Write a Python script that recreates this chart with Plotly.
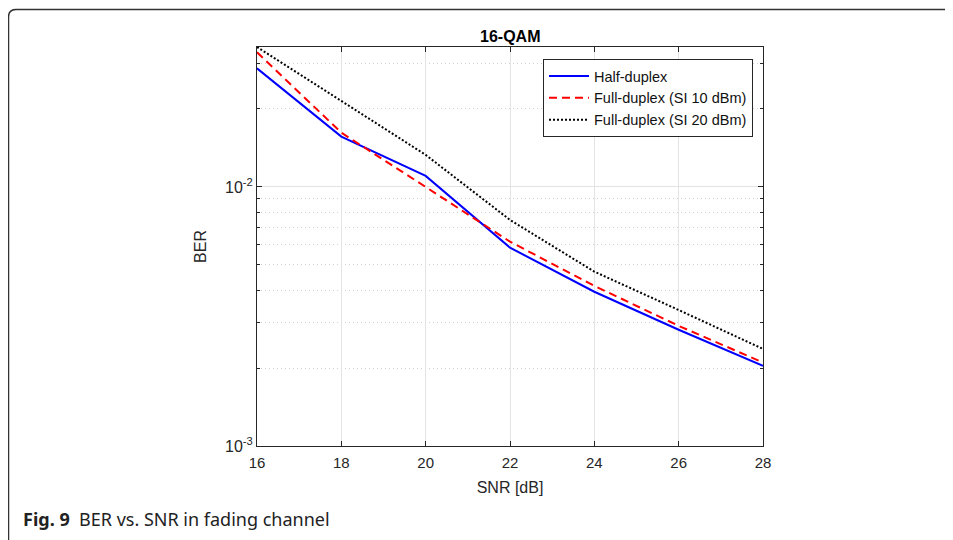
import plotly.graph_objects as go
import numpy as np

snr = [16, 18, 20, 22, 24, 26, 28]
half_duplex = [0.0287, 0.01564, 0.01103, 0.00583, 0.00394, 0.00281, 0.00204]
full_duplex_10 = [0.0331, 0.0162, 0.0100, 0.00615, 0.00415, 0.00291, 0.0021]
full_duplex_20 = [0.0347, 0.0215, 0.0133, 0.00746, 0.00471, 0.00335, 0.00237]

x_ticks = [16, 18, 20, 22, 24, 26, 28]
y_ticks = [0.001, 0.01]
y_ticktext = ["10<sup>-3</sup>", "10<sup>-2</sup>"]
y_minor = [m * 10.0 ** e for e in (-3, -2) for m in range(2, 10)]

AX = "#262626"
FONT = "Liberation Sans, Arial, sans-serif"

# page has an 8px body margin; figure coordinates are screen - 8
OFF = 8
W, H = 953 - OFF, 540 - OFF
L, T, R, B = 257 - OFF, 47 - OFF, 763 - OFF, 446 - OFF

fig = go.Figure()
fig.add_trace(go.Scatter(x=snr, y=half_duplex, mode="lines", name="Half-duplex",
                         line=dict(color="#0000ff", width=2)))
fig.add_trace(go.Scatter(x=snr, y=full_duplex_10, mode="lines", name="Full-duplex (SI 10 dBm)",
                         line=dict(color="#ff0000", width=2, dash="8px,5px")))
fig.add_trace(go.Scatter(x=snr, y=full_duplex_20, mode="lines", name="Full-duplex (SI 20 dBm)",
                         line=dict(color="#000000", width=2, dash="2px,2px")))

fig.update_layout(
    width=W, height=H,
    margin=dict(l=L, r=W - R, t=T, b=H - B),
    paper_bgcolor="white", plot_bgcolor="white",
    font=dict(family=FONT, size=14, color=AX),
    showlegend=True,
    legend=dict(x=(543 - 257) / 506, y=(446 - 59) / 399, xanchor="left", yanchor="top",
                bgcolor="white", bordercolor=AX, borderwidth=1,
                font=dict(size=14.5, color="#111"), tracegroupgap=0,
                itemwidth=40),
    xaxis=dict(range=[16, 28], tickvals=x_ticks, showline=True, linecolor=AX, linewidth=1,
               mirror="ticks", ticks="inside", ticklen=5, tickcolor=AX,
               showgrid=True, gridcolor="#e3e3e3", gridwidth=1, zeroline=False,
               ticklabelstandoff=3,
               title=dict(text="SNR [dB]", font=dict(size=16), standoff=11),
               tickfont=dict(size=15)),
    yaxis=dict(type="log", range=[-3, np.log10(0.0347)], tickvals=y_ticks, ticktext=y_ticktext,
               showline=True, linecolor=AX, linewidth=1, mirror="ticks",
               ticks="inside", ticklen=5, tickcolor=AX,
               showgrid=True, gridcolor="#e3e3e3", gridwidth=1, zeroline=False,
               minor=dict(tickvals=y_minor, ticks="inside", ticklen=3, tickcolor=AX,
                          showgrid=True, gridcolor="#d0d0d0", griddash="1px,3px", gridwidth=1),
               title=dict(text="BER", font=dict(size=16), standoff=14),
               tickfont=dict(size=16)),
)

fig.add_annotation(text="<b>16-QAM</b>", xref="paper", yref="paper", x=0.5, y=1.0,
                   xanchor="center", yanchor="bottom", yshift=0, showarrow=False,
                   font=dict(size=16, color="#000", family=FONT))

fig.add_annotation(text="<b>Fig. 9</b>  BER vs. SNR in fading channel",
                   xref="paper", yref="paper", x=(21 - 257) / 506, y=(446 - 519) / 399,
                   xanchor="left", yanchor="middle", showarrow=False,
                   font=dict(size=18, color="#222", family="Noto Sans, Open Sans, sans-serif"))


# outer frame (top and left borders with rounded corner)
def px(xs):
    return (xs - 257) / 506


def py(ys):
    return (446 - ys) / 399


path = (f"M {px(8.5)} {py(545)} L {px(8.5)} {py(17)} "
        f"Q {px(8.5)} {py(9.5)} {px(16)} {py(9.5)} L {px(960)} {py(9.5)}")
fig.add_shape(type="path", path=path, xref="paper", yref="paper",
              line=dict(color="#333", width=1.5))

fig.write_html("out.html")
